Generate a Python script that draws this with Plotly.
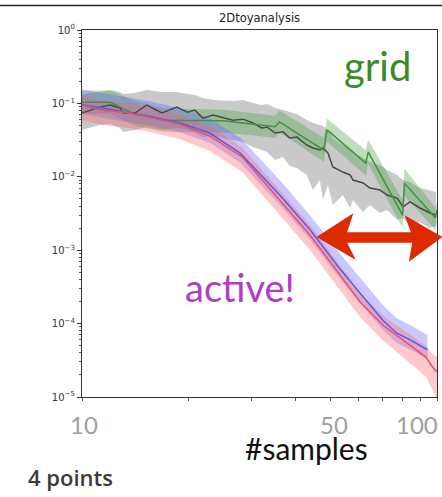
import math
import plotly.graph_objects as go

# ---------------- data ----------------
grid_x = [10, 12, 14, 17, 25, 35, 36, 48, 49, 63, 64, 80, 81, 99, 100]
grid_y = [0.104, 0.104, 0.072, 0.059, 0.058, 0.048, 0.056, 0.023, 0.0435, 0.0154, 0.0218, 0.003, 0.0082, 0.00275, 0.0035]
grid_hi = [0.15, 0.15, 0.11, 0.085, 0.082, 0.068, 0.08, 0.034, 0.062, 0.023, 0.032, 0.0048, 0.013, 0.0038, 0.0045]
grid_lo = [0.072, 0.072, 0.05, 0.041, 0.04, 0.034, 0.04, 0.016, 0.03, 0.0105, 0.015, 0.002, 0.0055, 0.0019, 0.0025]

rand_x = [10, 10.5, 11.2, 12.0, 12.8, 13.05, 14.1, 15.2, 16.8, 18.5, 19.8, 20.8, 21.9, 23.4, 26.6,
          28.4, 30.3, 32.1, 33.2, 35.0, 36.8, 38.5, 40.3, 43.0, 44.7, 46.8, 47.7, 49.3, 50.9, 54.3,
          56.9, 58.0, 61.9, 64.7, 69.1, 72.3, 77.2, 80.2, 83.9, 89.6, 95.5, 99.4]
rand_y = [0.074, 0.081, 0.089, 0.095, 0.0866, 0.074, 0.074, 0.095, 0.074, 0.089, 0.076, 0.081, 0.063, 0.0695, 0.059,
          0.061, 0.054, 0.0462, 0.0478, 0.0395, 0.041, 0.0338, 0.0348, 0.0271, 0.0247, 0.0232, 0.0247, 0.0211, 0.0136, 0.0116,
          0.0106, 0.00904, 0.00824, 0.00703, 0.0066, 0.00565, 0.00514, 0.00388, 0.00454, 0.00376, 0.00321, 0.00302]
rand_hi = [0.130, 0.139, 0.143, 0.152, 0.143, 0.134, 0.139, 0.152, 0.143, 0.143, 0.134, 0.130, 0.1185, 0.111, 0.108,
           0.111, 0.101, 0.095, 0.098, 0.0866, 0.0813, 0.0763, 0.0717, 0.0594, 0.0541, 0.0508, 0.0492, 0.0434, 0.0338, 0.0271,
           0.0232, 0.0218, 0.0180, 0.0159, 0.0145, 0.0124, 0.0106, 0.00905, 0.0085, 0.00704, 0.00661, 0.00621]
rand_lo = [0.0434, 0.0462, 0.0508, 0.0524, 0.0462, 0.0408, 0.0434, 0.0477, 0.0434, 0.0462, 0.0434, 0.0395, 0.0348, 0.0360, 0.0317,
           0.0298, 0.0255, 0.0232, 0.0218, 0.0169, 0.0186, 0.0140, 0.0132, 0.0106, 0.00661, 0.00905, 0.00483, 0.00773, 0.00413, 0.00565,
           0.00376, 0.00483, 0.00331, 0.00413, 0.00321, 0.00353, 0.00258, 0.00275, 0.0022, 0.00242, 0.00201, 0.00214]

blue_x = [10, 11.3, 13.6, 15.5, 18.9, 22.9, 27.9, 36.1, 43.9, 52.5, 60.7, 70.5, 77, 84, 94]
blue_y = [0.097, 0.087, 0.074, 0.067, 0.054, 0.0395, 0.021, 0.0056, 0.0019, 0.00061, 0.00026, 0.00011, 0.000074, 0.00006, 0.000044]
blue_hi = [0.155, 0.139, 0.118, 0.107, 0.086, 0.063, 0.034, 0.009, 0.003, 0.00098, 0.00042, 0.000176, 0.000118, 0.000096, 0.00007]
blue_lo = [0.072, 0.064, 0.055, 0.05, 0.04, 0.029, 0.0156, 0.0041, 0.0014, 0.00045, 0.000193, 0.000081, 0.000055, 0.000044, 0.000033]

red_x = [10, 11.3, 13.6, 15.5, 18.9, 22.9, 28.3, 36.1, 43.9, 52, 60.7, 70.5, 79.8, 93, 97.5, 100]
red_y = [0.095, 0.081, 0.074, 0.065, 0.052, 0.036, 0.0186, 0.0048, 0.0016, 0.00054, 0.000197, 0.000095, 0.00006, 0.000035, 0.000025, 0.000022]
red_hi = [0.128, 0.109, 0.1, 0.088, 0.07, 0.049, 0.025, 0.0065, 0.0022, 0.00073, 0.000266, 0.000128, 0.000085, 0.00005, 0.000038, 0.000035]
red_lo = [0.059, 0.051, 0.046, 0.041, 0.0325, 0.0225, 0.0116, 0.003, 0.001, 0.00034, 0.000123, 0.000059, 0.000035, 0.000019, 0.000012, 0.000009]

y_ticks = [1, 0.1, 0.01, 0.001, 0.0001, 0.00001]
y_tick_text = ["10<sup>0</sup>", "10<sup>\u22121</sup>", "10<sup>\u22122</sup>", "10<sup>\u22123</sup>",
               "10<sup>\u22124</sup>", "10<sup>\u22125</sup>"]
x_ticks = [10, 20, 30, 40, 50, 60, 70, 80, 90, 100]
x_labels = ["10", "50", "100"]

# ---------------- layout constants ----------------
W, H = 442, 497
ML, MR, MT, MB = 82, 5, 30, 100
PW, PH = W - ML - MR, H - MT - MB


def px2paper(px, py):
    return (px - ML) / PW, (H - MB - py) / PH


fig = go.Figure()


def band(xs, hi, lo, color):
    fig.add_trace(go.Scatter(x=xs + xs[::-1], y=hi + lo[::-1], fill="toself", fillcolor=color,
                             line=dict(width=0), mode="lines", hoverinfo="skip", showlegend=False))


band(rand_x, rand_hi, rand_lo, "rgba(120,120,120,0.40)")
band(grid_x, grid_hi, grid_lo, "rgba(70,160,70,0.35)")
band(blue_x, blue_hi, blue_lo, "rgba(100,100,255,0.35)")
band(red_x, red_hi, red_lo, "rgba(255,90,100,0.33)")

fig.add_trace(go.Scatter(x=rand_x, y=rand_y, mode="lines", line=dict(color="#4a4a4a", width=1.5), showlegend=False))
fig.add_trace(go.Scatter(x=grid_x, y=grid_y, mode="lines", line=dict(color="#3f953f", width=1.5), showlegend=False))
fig.add_trace(go.Scatter(x=blue_x, y=blue_y, mode="lines", line=dict(color="#5a5ae6", width=1.5), showlegend=False))
fig.add_trace(go.Scatter(x=red_x, y=red_y, mode="lines", line=dict(color="#e8506a", width=1.5), showlegend=False))

# double arrow (decoration)
arrow_px = [(318, 237), (352, 215), (346, 233), (412, 233), (406, 217), (441, 237),
            (410, 260), (413, 242), (346, 242), (354, 258)]
pts = [px2paper(a, b) for a, b in arrow_px]
path = "M " + " L ".join(f"{x:.4f},{y:.4f}" for x, y in pts) + " Z"
shapes = [
    dict(type="path", path=path, xref="paper", yref="paper", fillcolor="#dd2a00",
         line=dict(color="#dd2a00", width=1.5)),
]
x0, ytop = px2paper(0, 5.5)
x1, _ = px2paper(W, 5.5)
shapes.append(dict(type="line", xref="paper", yref="paper", x0=x0, x1=x1, y0=ytop, y1=ytop,
                   line=dict(color="#222", width=1.4)))

annotations = []
ax_lbl_y = px2paper(0, 424)[1]
for lab in x_labels:
    v = float(lab)
    anchor = "right" if lab == "100" else "center"
    shift = 3 if lab == "100" else (4 if lab == "50" else 2)
    annotations.append(dict(text=lab, x=math.log10(v), xref="x", y=ax_lbl_y, yref="paper",
                            xanchor=anchor, yanchor="middle", showarrow=False, xshift=shift,
                            font=dict(family="Lato", size=24, color="#a0a0a0")))

tx, ty = px2paper(259.5, 18)
annotations.append(dict(text="2Dtoyanalysis", x=tx, y=ty, xref="paper", yref="paper", showarrow=False,
                        xanchor="center", yanchor="middle", font=dict(family="DejaVu Sans", size=11.5, color="#222")))
gx, gy = px2paper(377, 66)
annotations.append(dict(text="grid", x=gx, y=gy, xref="paper", yref="paper", showarrow=False,
                        xanchor="center", yanchor="middle", font=dict(family="Lato", size=40, color="#3c8a28")))
ax_, ay_ = px2paper(240, 287)
annotations.append(dict(text="active!", x=ax_, y=ay_, xref="paper", yref="paper", showarrow=False,
                        xanchor="center", yanchor="middle", font=dict(family="Lato", size=38, color="#b23cc6")))
sx, sy = px2paper(306, 448)
annotations.append(dict(text="#samples", x=sx, y=sy, xref="paper", yref="paper", showarrow=False,
                        xanchor="center", yanchor="middle", font=dict(family="Lato", size=30, color="#111")))
px_, py_ = px2paper(26, 477)
annotations.append(dict(text="4 points", x=px_, y=py_, xref="paper", yref="paper", showarrow=False,
                        xanchor="left", yanchor="middle",
                        font=dict(family="Open Sans", size=22, color="#3a3a3a", weight=600)))

fig.update_layout(
    width=W, height=H,
    margin=dict(l=ML, r=MR, t=MT, b=MB),
    paper_bgcolor="white", plot_bgcolor="white",
    shapes=shapes, annotations=annotations,
    xaxis=dict(type="log", range=[1, 2], tickvals=x_ticks, ticktext=[""] * len(x_ticks),
               ticks="outside", ticklen=3, tickcolor="#555", showgrid=False, zeroline=False,
               showline=True, linecolor="#333", linewidth=1.2, mirror=True),
    yaxis=dict(type="log", range=[-5, 0], tickvals=y_ticks, ticktext=y_tick_text,
               ticks="outside", ticklen=4, tickcolor="#333", showgrid=False, zeroline=False,
               showline=True, linecolor="#333", linewidth=1.2, mirror=True,
               tickfont=dict(family="DejaVu Sans", size=10, color="#333"),
               minor=dict(ticks="outside", ticklen=2, tickcolor="#555", dtick="D1", showgrid=False)),
)

fig.write_html("out.html")
